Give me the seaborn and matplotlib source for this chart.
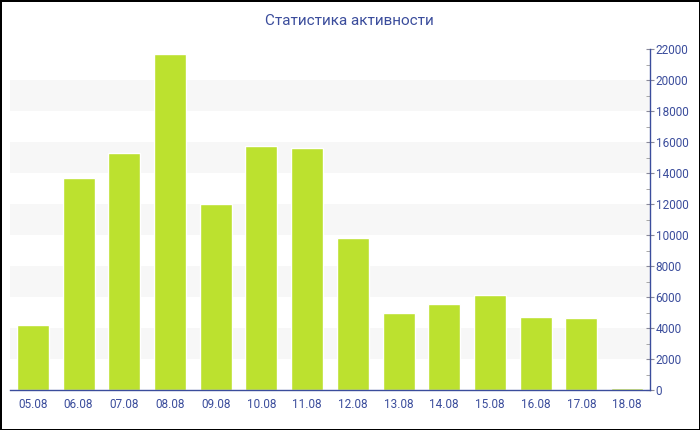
import numpy as np
import pandas as pd
import seaborn as sns
import matplotlib.pyplot as plt
from matplotlib.ticker import MultipleLocator

# data
dates = ['05.08', '06.08', '07.08', '08.08', '09.08', '10.08', '11.08',
         '12.08', '13.08', '14.08', '15.08', '16.08', '17.08', '18.08']
activity = [4200, 13650, 15300, 21650, 12000, 15750, 15600,
            9800, 5000, 5550, 6150, 4700, 4650, 100]
y_ticks = list(range(0, 22001, 2000))

df = pd.DataFrame({'date': dates, 'value': activity})

sns.set_style('white')
plt.rcParams['font.family'] = ['Roboto', 'DejaVu Sans']

blue = '#3b4d9c'
fig = plt.figure(figsize=(7, 4.3), dpi=100)
fig.patch.set_edgecolor('black')
fig.patch.set_linewidth(2)
ax = fig.add_axes([10 / 700, 40 / 430, 640 / 700, 341 / 430])

# alternating light bands
for lo in range(2000, 22000, 4000):
    ax.axhspan(lo, lo + 2000, color='#f7f7f7', zorder=0, lw=0)

sns.barplot(data=df, x='date', y='value', color='#bce12f', saturation=1,
            width=0.7, ax=ax, zorder=2)

ax.set_xlim(-0.5, len(dates) - 0.5)
ax.set_ylim(0, 22000)
ax.set_xlabel('')
ax.set_ylabel('')
ax.yaxis.tick_right()
ax.set_yticks(y_ticks)
ax.yaxis.set_minor_locator(MultipleLocator(1000))

for side in ['top', 'left']:
    ax.spines[side].set_visible(False)
ax.spines['right'].set_color(blue)
ax.spines['bottom'].set_color(blue)
ax.spines['right'].set_linewidth(1)
ax.spines['bottom'].set_linewidth(1)

ax.tick_params(axis='y', which='major', direction='inout', length=6,
               color='#8a8a9a', labelcolor=blue, labelsize=8.5, pad=1)
ax.tick_params(axis='y', which='minor', direction='in', length=3,
               color='#9a9a9a')
ax.tick_params(axis='x', direction='out', length=4, color='#8a8a9a',
               labelcolor=blue, labelsize=8.5, pad=2)

ax.set_title('Статистика активности', color=blue, fontsize=11,
             x=(349 - 10) / 640, y=1.0, pad=17)

fig.savefig('out.png', dpi=100, edgecolor=fig.get_edgecolor())
